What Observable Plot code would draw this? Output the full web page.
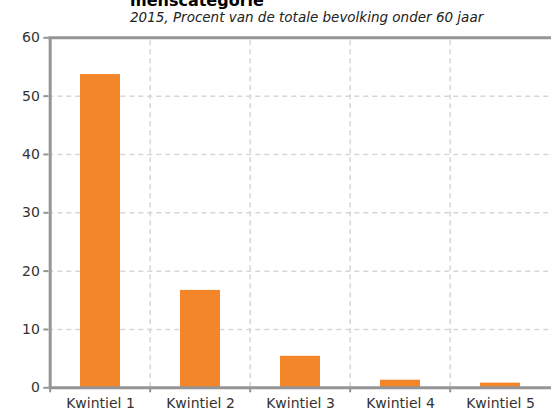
<!DOCTYPE html>
<html>
<head>
<meta charset="utf-8">
<script src="https://cdn.jsdelivr.net/npm/d3@7"></script>
<script src="https://cdn.jsdelivr.net/npm/@observablehq/plot@0.6"></script>
<style>
  html, body { margin: 0; padding: 0; background: #fff; }
  #wrap { position: relative; width: 551px; height: 412px; overflow: hidden; font-family: "DejaVu Sans", sans-serif; }
  #title { position: absolute; left: 130px; top: -8px; font-size: 16px; font-weight: bold; color: #000; white-space: nowrap; line-height: 18px; }
  #subtitle { position: absolute; left: 130px; top: 9px; font-size: 13.5px; font-style: italic; color: #222; white-space: nowrap; line-height: 17px; }
  #chart { position: absolute; left: 0; top: 0; }
</style>
</head>
<body>
<div id="wrap">
  <div id="chart"></div>
  <div id="title">menscategorie</div>
  <div id="subtitle">2015, Procent van de totale bevolking onder 60 jaar</div>
</div>
<script>
const categories = ["Kwintiel 1", "Kwintiel 2", "Kwintiel 3", "Kwintiel 4", "Kwintiel 5"];
const values = [53.7, 16.7, 5.4, 1.3, 0.8];
const yTicks = [0, 10, 20, 30, 40, 50, 60];

const data = categories.map((c, i) => ({cat: c, value: values[i]}));

const W = 551, H = 412;
const mL = 48.3, mR = -0.5, mT = 37.3, mB = 24.7;
const step = (W - mL - mR) / categories.length;
const axisGrey = "#959595";
const gridGrey = "#d6d6d6";

const chart = Plot.plot({
  width: W,
  height: H,
  marginLeft: mL,
  marginRight: mR,
  marginTop: mT,
  marginBottom: mB,
  style: {fontFamily: "DejaVu Sans, sans-serif", fontSize: "14px", color: "#333", background: "#fff", overflow: "visible"},
  x: {domain: categories, paddingInner: 0.6, paddingOuter: 0.3, label: null},
  y: {domain: [0, 60], label: null},
  marks: [
    Plot.ruleY(yTicks.slice(1, -1), {stroke: gridGrey, strokeWidth: 1.5, strokeDasharray: "5,4"}),
    Plot.ruleX(categories.slice(1), {x: d => d, dx: -step / 2, y1: 0, y2: 60, stroke: gridGrey, strokeWidth: 1.5, strokeDasharray: "5,4"}),
    Plot.barY(data, {x: "cat", y: "value", fill: "#F4862A"}),
    Plot.ruleY([0], {stroke: axisGrey, strokeWidth: 3}),
    Plot.ruleY([60], {stroke: axisGrey, strokeWidth: 3}),
    Plot.ruleX([categories[0]], {x: d => d, dx: -step / 2, y1: 0, y2: 60, stroke: axisGrey, strokeWidth: 3}),
    Plot.axisY({ticks: yTicks, tickSize: 5, tickPadding: 4, stroke: axisGrey, strokeWidth: 2, fill: "#333", fontSize: 14, label: null}),
    Plot.axisX({tickSize: 5, dx: -step / 2, text: null, stroke: axisGrey, strokeWidth: 2, label: null}),
    Plot.axisX({tickSize: 0, tickPadding: 10, fill: "#333", fontSize: 14, label: null})
  ]
});
document.getElementById("chart").appendChild(chart);
</script>
</body>
</html>
